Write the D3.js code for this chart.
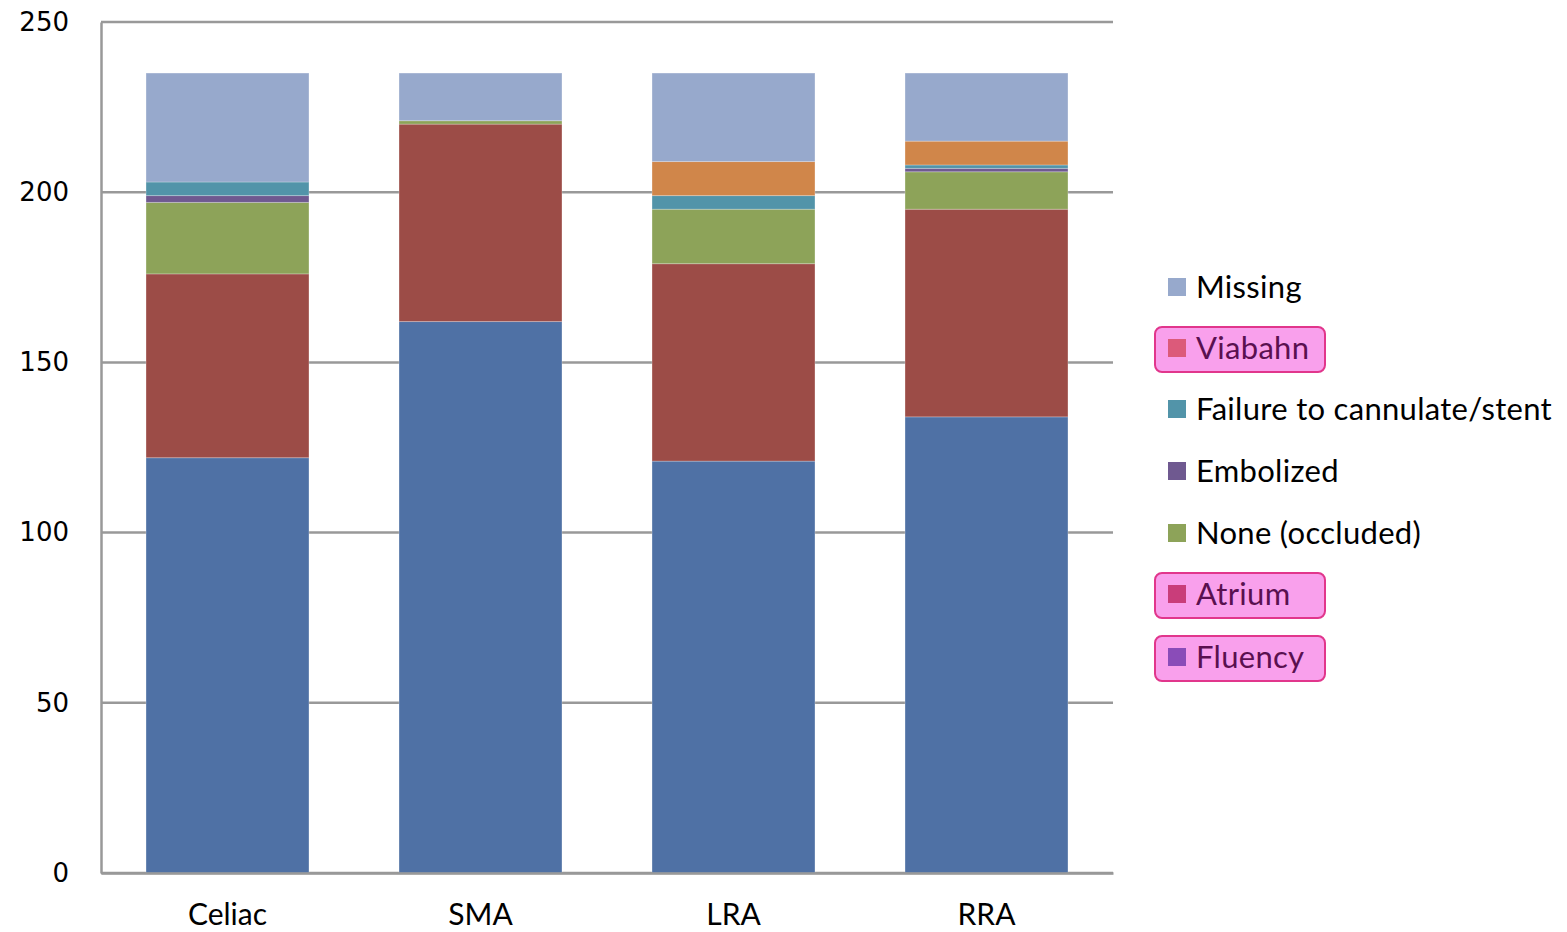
<!DOCTYPE html>
<html>
<head>
<meta charset="utf-8">
<script src="https://cdn.jsdelivr.net/npm/d3@7"></script>
<style>
  html, body { margin: 0; padding: 0; background: #fff; }
  svg { display: block; }
</style>
</head>
<body>
<svg id="chart" width="1567" height="932"></svg>
<script>
// Vessels on the x axis
const categories = ["Celiac", "SMA", "LRA", "RRA"];

// Stack order, bottom to top
const seriesNames = ["Fluency", "Atrium", "None (occluded)", "Embolized",
                     "Failure to cannulate/stent", "Viabahn", "Missing"];

// Counts per vessel, one array per series (same order as categories)
const fluency   = [122, 162, 121, 134];
const atrium    = [54, 58, 58, 61];
const noneOccl  = [21, 1, 16, 11];
const embolized = [2, 0, 0, 1];
const failure   = [4, 0, 4, 1];
const viabahn   = [0, 0, 10, 7];
const missing   = [32, 14, 26, 20];

const yTicks = [0, 50, 100, 150, 200, 250];

// Bar fills per series
const barColors = ["#4f71a5", "#9c4c47", "#8da359", "#6f5990",
                   "#5294a9", "#d0864a", "#97a9cc"];
// Legend swatches (the highlighted entries carry their own tint)
const legendColors = ["#97a9cc", "#dc5a7a", "#5294a9", "#6f5990",
                      "#8da359", "#c93d7a", "#8a4cb8"];
const highlighted = { "Viabahn": true, "Atrium": true, "Fluency": true };

const values = [fluency, atrium, noneOccl, embolized, failure, viabahn, missing];
const rows = categories.map((c, i) => {
  const r = { cat: c };
  seriesNames.forEach((s, k) => { r[s] = values[k][i]; });
  return r;
});
const stacked = d3.stack().keys(seriesNames)(rows);

const svg = d3.select("#chart");
const plotL = 101, plotR = 1113, plotT = 22, plotB = 873;

const x = d3.scaleBand().domain(categories).range([plotL, plotR])
  .paddingInner(0.356).paddingOuter(0.178);
const y = d3.scaleLinear().domain([0, 250]).range([plotB, plotT]);

// Horizontal gridlines
svg.append("g").selectAll("line").data(yTicks).join("line")
  .attr("x1", plotL).attr("x2", plotR)
  .attr("y1", d => y(d)).attr("y2", d => y(d))
  .attr("stroke", "#999").attr("stroke-width", 2.5);

// Stacked bars
svg.append("g").selectAll("g").data(stacked).join("g")
  .attr("fill", (d, i) => barColors[i])
  .selectAll("rect").data(d => d).join("rect")
  .attr("x", d => x(d.data.cat))
  .attr("width", x.bandwidth())
  .attr("y", d => y(d[1]))
  .attr("height", d => y(d[0]) - y(d[1]))
  .attr("stroke", "rgba(255,255,255,0.25)")
  .attr("stroke-width", 1);

// Y axis
const yAxis = d3.axisLeft(y).tickValues(yTicks).tickSize(0).tickPadding(32);
const gy = svg.append("g").attr("transform", `translate(${plotL},0)`).call(yAxis);
gy.select(".domain").attr("stroke", "#999").attr("stroke-width", 2.5);
gy.selectAll("text").attr("font-family", "DejaVu Sans").attr("font-size", 26)
  .attr("fill", "#000");

// X axis
const xAxis = d3.axisBottom(x).tickSize(0).tickPadding(26);
const gx = svg.append("g").attr("transform", `translate(0,${plotB})`).call(xAxis);
gx.select(".domain").attr("stroke", "#999").attr("stroke-width", 2.5);
gx.selectAll("text").attr("font-family", "Lato").attr("font-size", 30)
  .attr("fill", "#000").attr("dy", "0.85em");

// Legend, top of the stack first
const legendOrder = seriesNames.slice().reverse();
const legendY = [287, 348, 409, 471, 533, 594, 657];
const lg = svg.append("g");
legendOrder.forEach((name, i) => {
  const cy = legendY[i];
  const hi = highlighted[name];
  if (hi) {
    lg.append("rect").attr("x", 1155).attr("y", cy - 21).attr("width", 170)
      .attr("height", 45).attr("rx", 7)
      .attr("fill", "#f9a0ec").attr("stroke", "#e1368c").attr("stroke-width", 2);
  }
  lg.append("rect").attr("x", 1168).attr("y", cy - 9).attr("width", 18)
    .attr("height", 18).attr("fill", legendColors[i]);
  lg.append("text").attr("x", 1196).attr("y", cy).attr("dy", "0.36em")
    .attr("font-family", "Lato").attr("font-size", 31)
    .attr("letter-spacing", 0.3)
    .attr("fill", hi ? "#5a1050" : "#000").text(name);
});
</script>
</body>
</html>
